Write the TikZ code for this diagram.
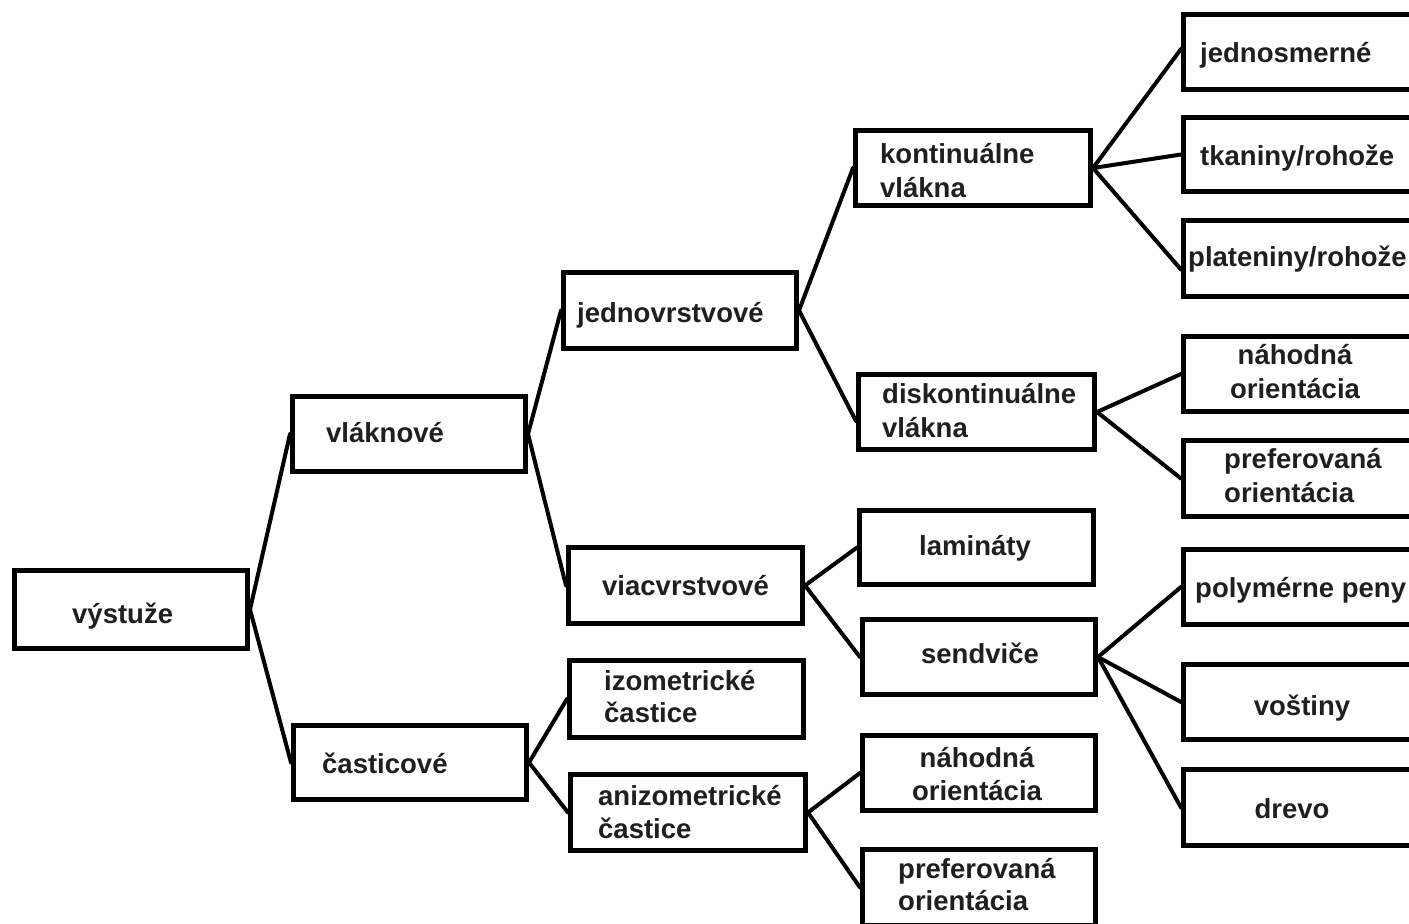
\documentclass[tikz,border=0pt]{standalone}
\usepackage{fontspec}
\setmainfont{Liberation Sans}
\begin{document}
\begin{tikzpicture}[x=1pt,y=-1pt,
  bx/.style={draw=black, line width=5pt, rectangle, fill=white, inner sep=0pt},
  tx/.style={inner sep=0pt, font=\fontsize{27.5}{33}\selectfont\bfseries, text=black!88},
  cn/.style={draw=black, line width=4pt, line cap=round}]
\useasboundingbox (0,0) rectangle (1409,924);
\fill[white] (0,0) rectangle (1409,924);
\clip (0,0) rectangle (1409,924);
% boxes
\node[bx, minimum width=233pt, minimum height=78pt] (vystuze) at (131,609.5) {};
\node[bx, minimum width=233pt, minimum height=75pt] (vlaknove) at (409,434) {};
\node[bx, minimum width=233pt, minimum height=74pt] (casticove) at (410,762.5) {};
\node[bx, minimum width=233pt, minimum height=76pt] (jednovrst) at (680,310.5) {};
\node[bx, minimum width=234pt, minimum height=76pt] (viacvrst) at (685.5,585.5) {};
\node[bx, minimum width=234pt, minimum height=77pt] (izometr) at (686.5,699) {};
\node[bx, minimum width=235pt, minimum height=76pt] (anizometr) at (688,812.5) {};
\node[bx, minimum width=235pt, minimum height=75pt] (kontin) at (973,168) {};
\node[bx, minimum width=236pt, minimum height=75pt] (diskontin) at (976.5,412) {};
\node[bx, minimum width=234pt, minimum height=74pt] (laminaty) at (976.5,547.5) {};
\node[bx, minimum width=233pt, minimum height=75pt] (sendvice) at (979,657) {};
\node[bx, minimum width=233pt, minimum height=75pt] (nahodnaB) at (979,773) {};
\node[bx, minimum width=233pt, minimum height=76pt] (preferB) at (979,887.5) {};
\node[bx, minimum width=235pt, minimum height=75pt] (jednosm) at (1301,52) {};
\node[bx, minimum width=235pt, minimum height=74pt] (tkaniny) at (1301,154.5) {};
\node[bx, minimum width=235pt, minimum height=76pt] (plateniny) at (1301,258.5) {};
\node[bx, minimum width=235pt, minimum height=75pt] (nahodnaA) at (1301,374) {};
\node[bx, minimum width=235pt, minimum height=76pt] (preferA) at (1301,478.5) {};
\node[bx, minimum width=235pt, minimum height=75pt] (polym) at (1301,587) {};
\node[bx, minimum width=235pt, minimum height=75pt] (vostiny) at (1301,702) {};
\node[bx, minimum width=235pt, minimum height=76pt] (drevo) at (1301,807.5) {};
% connectors
\draw[cn] (vystuze.east) -- (vlaknove.west);
\draw[cn] (vystuze.east) -- (casticove.west);
\draw[cn] (vlaknove.east) -- (jednovrst.west);
\draw[cn] (vlaknove.east) -- (viacvrst.west);
\draw[cn] (casticove.east) -- (izometr.west);
\draw[cn] (casticove.east) -- (anizometr.west);
\draw[cn] (jednovrst.east) -- (kontin.west);
\draw[cn] (jednovrst.east) -- ([yshift=-9pt]diskontin.west);
\draw[cn] (viacvrst.east) -- (laminaty.west);
\draw[cn] (viacvrst.east) -- (sendvice.west);
\draw[cn] (anizometr.east) -- (nahodnaB.west);
\draw[cn] (anizometr.east) -- (preferB.west);
\draw[cn] (kontin.east) -- ([yshift=3pt]jednosm.west);
\draw[cn] (kontin.east) -- (tkaniny.west);
\draw[cn] (kontin.east) -- ([yshift=-11pt]plateniny.west);
\draw[cn] (diskontin.east) -- (nahodnaA.west);
\draw[cn] (diskontin.east) -- (preferA.west);
\draw[cn] (sendvice.east) -- (polym.west);
\draw[cn] (sendvice.east) -- (vostiny.west);
\draw[cn] (sendvice.east) -- (drevo.west);
% texts
\node[tx, anchor=base west] (t1) at (72,623) {výstuže};
\node[tx, anchor=base west] (t2) at (326,442) {vláknové};
\node[tx, anchor=base west] (t3) at (322,773) {časticové};
\node[tx, anchor=base west] (t4) at (577,322) {jednovrstvové};
\node[tx, anchor=base west] (t5) at (602,595) {viacvrstvové};
\node[tx, anchor=base west] (t6a) at (604,690) {izometrické};
\node[tx, anchor=base west] (t6b) at (604,722) {častice};
\node[tx, anchor=base west] (t7a) at (598,805) {anizometrické};
\node[tx, anchor=base west] (t7b) at (598,838) {častice};
\node[tx, anchor=base west] (t8a) at (880,163) {kontinuálne};
\node[tx, anchor=base west] (t8b) at (880,197) {vlákna};
\node[tx, anchor=base west] (t9a) at (882,403) {diskontinuálne};
\node[tx, anchor=base west] (t9b) at (882,437) {vlákna};
\node[tx, anchor=base] (t10) at (975,555) {lamináty};
\node[tx, anchor=base] (t11) at (980,663) {sendviče};
\node[tx, anchor=base] (t12a) at (977,767) {náhodná};
\node[tx, anchor=base] (t12b) at (977,800) {orientácia};
\node[tx, anchor=base west] (t13a) at (898,878) {preferovaná};
\node[tx, anchor=base west] (t13b) at (898,910) {orientácia};
\node[tx, anchor=base west] (t14) at (1200,62) {jednosmerné};
\node[tx, anchor=base west] (t15) at (1200,165) {tkaniny/rohože};
\node[tx, anchor=base west] (t16) at (1188,266) {plateniny/rohože};
\node[tx, anchor=base] (t17a) at (1295,364) {náhodná};
\node[tx, anchor=base] (t17b) at (1295,398) {orientácia};
\node[tx, anchor=base west] (t18a) at (1224,468) {preferovaná};
\node[tx, anchor=base west] (t18b) at (1224,502) {orientácia};
\node[tx, anchor=base west] (t19) at (1195,597) {polymérne peny};
\node[tx, anchor=base] (t20) at (1302,715) {voštiny};
\node[tx, anchor=base] (t21) at (1292,818) {drevo};
\end{tikzpicture}
\end{document}
